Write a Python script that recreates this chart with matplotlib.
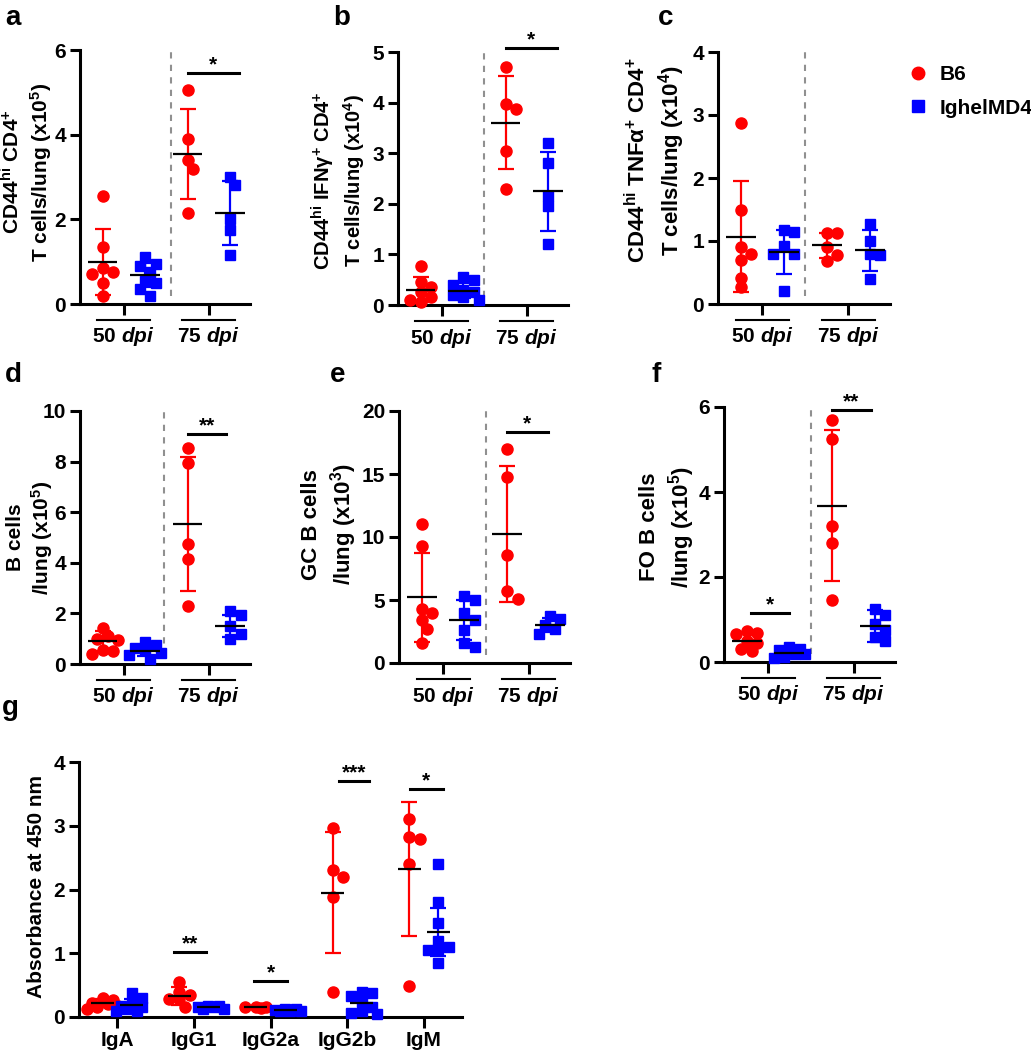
import numpy as np
import matplotlib
matplotlib.use("Agg")
import matplotlib.pyplot as plt
from matplotlib.lines import Line2D

plt.rcParams['font.family'] = ['Liberation Sans', 'DejaVu Sans']
plt.rcParams['font.weight'] = 'bold'
plt.rcParams['axes.labelweight'] = 'bold'
plt.rcParams['mathtext.fontset'] = 'custom'
plt.rcParams['mathtext.rm'] = 'Liberation Sans:bold'
plt.rcParams['mathtext.bf'] = 'Liberation Sans:bold'
plt.rcParams['mathtext.it'] = 'Liberation Sans:italic:bold'
plt.rcParams['mathtext.default'] = 'bf'

RED = '#ff0000'
BLUE = '#0000ff'
groups = ["B6", "IghelMD4"]
timepoints = ["50", "75"]

# ---- panels a-f: values per group, order B6 50, Ighel 50, B6 75, Ighel 75 ----
a_vals = [[2.55, 1.35, 0.85, 0.75, 0.7, 0.5, 0.2],
          [1.1, 0.95, 0.9, 0.75, 0.55, 0.5, 0.35, 0.2],
          [5.05, 3.9, 3.4, 3.2, 2.15],
          [3.0, 2.8, 2.0, 1.75, 1.15]]
a_mean = [1.0, 0.68, 3.55, 2.15]
a_sd = [0.78, 0.28, 1.06, 0.75]

b_vals = [[0.78, 0.45, 0.35, 0.25, 0.15, 0.1, 0.05],
          [0.55, 0.5, 0.4, 0.3, 0.25, 0.2, 0.15, 0.1],
          [4.7, 3.97, 3.87, 3.05, 2.3],
          [3.2, 2.8, 2.15, 1.95, 1.2]]
b_mean = [0.3, 0.28, 3.6, 2.25]
b_sd = [0.25, 0.15, 0.92, 0.78]

c_vals = [[2.87, 1.5, 0.9, 0.8, 0.7, 0.42, 0.27],
          [1.17, 1.15, 0.92, 0.8, 0.8, 0.2],
          [1.13, 1.12, 0.9, 0.78, 0.68],
          [1.27, 1.0, 0.8, 0.78, 0.4]]
c_mean = [1.07, 0.82, 0.93, 0.85]
c_sd = [0.88, 0.35, 0.2, 0.32]

d_vals = [[1.42, 1.1, 1.0, 0.95, 0.55, 0.5, 0.4],
          [0.85, 0.75, 0.65, 0.55, 0.45, 0.35, 0.2],
          [8.55, 7.95, 4.75, 4.15, 2.3],
          [2.1, 1.95, 1.5, 1.2, 1.0]]
d_mean = [0.92, 0.52, 5.55, 1.5]
d_sd = [0.4, 0.22, 2.65, 0.45]

e_vals = [[11.0, 9.3, 4.3, 4.0, 3.4, 2.7, 1.6],
          [5.3, 5.0, 4.0, 3.4, 2.6, 1.6, 1.3],
          [17.0, 14.8, 8.6, 5.7, 5.1],
          [3.7, 3.5, 3.0, 2.7, 2.3]]
e_mean = [5.2, 3.4, 10.25, 3.05]
e_sd = [3.55, 1.6, 5.4, 0.56]

f_vals = [[0.72, 0.68, 0.65, 0.5, 0.45, 0.3, 0.25],
          [0.35, 0.3, 0.28, 0.2, 0.18, 0.12, 0.1],
          [5.7, 5.25, 3.2, 2.8, 1.45],
          [1.25, 1.1, 0.9, 0.75, 0.6, 0.5]]
f_mean = [0.5, 0.22, 3.68, 0.85]
f_sd = [0.2, 0.09, 1.77, 0.37]

# ---- panel g ----
g_isotypes = ["IgA", "IgG1", "IgG2a", "IgG2b", "IgM"]
g_b6 = [[0.3, 0.27, 0.22, 0.2, 0.18, 0.15, 0.12],
        [0.55, 0.4, 0.35, 0.28, 0.28, 0.15],
        [0.16, 0.15, 0.15, 0.14],
        [2.97, 2.3, 2.2, 1.88, 0.39],
        [3.1, 2.82, 2.8, 2.4, 0.49]]
g_ighel = [[0.38, 0.3, 0.22, 0.18, 0.15, 0.12, 0.1, 0.1],
           [0.18, 0.17, 0.15, 0.15, 0.13, 0.12],
           [0.12, 0.12, 0.11, 0.1, 0.1, 0.09],
           [0.4, 0.38, 0.33, 0.25, 0.15, 0.1, 0.07, 0.05],
           [2.4, 1.8, 1.47, 1.2, 1.1, 1.05, 1.05, 0.85]]
g_b6_mean = [0.22, 0.33, 0.15, 1.95, 2.32]
g_b6_sd = [0.06, 0.14, 0.01, 0.95, 1.05]
g_ighel_mean = [0.19, 0.15, 0.11, 0.22, 1.33]
g_ighel_sd = [0.1, 0.02, 0.01, 0.14, 0.38]

# significance marks: (x_start, x_end, y, label)
sig_a = [(2.0, 3.2, 5.45, "*")]
sig_b = [(2.0, 3.2, 5.08, "*")]
sig_c = []
sig_d = [(2.0, 2.9, 9.08, "**")]
sig_e = [(2.0, 2.95, 18.3, "*")]
sig_f = [(0.1, 1.0, 1.15, "*"), (2.0, 2.9, 5.93, "**")]
sig_g = [(0.74, 1.16, 1.02, "**"), (1.79, 2.21, 0.56, "*"),
         (2.89, 3.29, 3.7, "***"), (3.82, 4.25, 3.58, "*")]

W, H = 1031, 1050
fig = plt.figure(figsize=(W / 100, H / 100), dpi=100)


def add_axes_px(left, top, right, bottom):
    return fig.add_axes([left / W, 1 - bottom / H, (right - left) / W, (bottom - top) / H])


def swarm(vals, ax, xc, diam=10.5, max_steps=3):
    # spread overlapping points sideways (pixel space), like a dot plot
    x0 = ax.transData.transform((xc, 0))[0]
    placed = []
    xs = np.zeros(len(vals))
    order = np.argsort(vals)[::-1]
    cands = sorted(np.arange(-max_steps, max_steps + 1) * diam * 0.5, key=lambda c: (abs(c), -c))
    for i in order:
        y = ax.transData.transform((xc, vals[i]))[1]
        best, best_d = 0.0, -1
        for c in cands:
            dmin = min([np.hypot(c - px, y - py) for px, py in placed] + [1e9])
            if dmin >= diam * 0.9:
                best = c
                break
            if dmin > best_d:
                best, best_d = c, dmin
        placed.append((best, y))
        xs[i] = ax.transData.inverted().transform((x0 + best, y))[0]
    return xs


def style_axes(ax):
    for s in ['top', 'right']:
        ax.spines[s].set_visible(False)
    for s in ['left', 'bottom']:
        ax.spines[s].set_linewidth(2.2)
    ax.tick_params(axis='both', width=2.2, labelsize=15)
    ax.tick_params(axis='y', length=7, pad=3)
    ax.tick_params(axis='x', length=8, pad=2)
    for lab in ax.get_yticklabels() + ax.get_xticklabels():
        lab.set_fontweight('bold')


def draw_group(ax, xc, vals, mean, sd, color, marker, hw):
    xs = swarm(vals, ax, xc)
    ax.plot(xs, vals, linestyle='none', marker=marker, color=color,
            markersize=8 if marker == 'o' else 7.3, zorder=3, clip_on=False)
    ax.errorbar(xc, mean, yerr=sd, fmt='none', ecolor=color, elinewidth=1.6,
                capsize=5.5, capthick=1.6, zorder=4)
    ax.hlines(mean, xc - hw, xc + hw, color='black', lw=1.6, zorder=5)


def draw_sig(ax, sigs):
    for x0, x1, y, lab in sigs:
        ax.plot([x0, x1], [y, y], color='black', lw=2.2, clip_on=False)
        ax.annotate(lab, ((x0 + x1) / 2, y), xytext=(0, -1), textcoords='offset points',
                    ha='center', va='bottom', fontsize=15, fontweight='bold',
                    annotation_clip=False)


panels = [
    ("a", (80, 50, 250, 304), a_vals, a_mean, a_sd, 6, [0, 2, 4, 6], 1.62, sig_a,
     "CD44$^{hi}$ CD4$^{+}$\nT cells/lung (x10$^{5}$)", (-0.15, 0.52), 15, 1.25),
    ("b", (398, 52, 568, 305), b_vals, b_mean, b_sd, 5, [0, 1, 2, 3, 4, 5], 1.5, sig_b,
     "CD44$^{hi}$ IFNγ$^{+}$ CD4$^{+}$\nT cells/lung (x10$^{4}$)", (-0.18, 0.49), 14.5, 1.25),
    ("c", (718, 52, 890, 304), c_vals, c_mean, c_sd, 4, [0, 1, 2, 3, 4], 1.5, sig_c,
     "CD44$^{hi}$ TNFα$^{+}$ CD4$^{+}$\nT cells/lung (x10$^{4}$)", (-0.18, 0.57), 16, 1.25),
    ("d", (80, 411, 250, 664), d_vals, d_mean, d_sd, 10, [0, 2, 4, 6, 8, 10], 1.45, sig_d,
     "B cells\n/lung (x10$^{5}$)", (-0.147, 0.5), 15, 1.2),
    ("e", (399, 411, 570, 663), e_vals, e_mean, e_sd, 20, [0, 5, 10, 15, 20], 1.5, sig_e,
     "GC B cells\n/lung (x10$^{3}$)", (-0.235, 0.55), 16, 1.25),
    ("f", (724, 407, 895, 662), f_vals, f_mean, f_sd, 6, [0, 2, 4, 6], 1.5, sig_f,
     "FO B cells\n/lung (x10$^{5}$)", (-0.16, 0.53), 16, 1.25),
]
letter_pos = {"a": (5, 5), "b": (333, 5), "c": (658, 5),
              "d": (5, 362), "e": (330, 362), "f": (652, 362), "g": (2, 695)}

for (letter, rect, vals, mean, sd, ymax, yticks, dash_x, sigs,
     ylabel, lab_xy, lab_fs, lab_ls) in panels:
    ax = add_axes_px(*rect)
    ax.set_xlim(-0.53, 3.47)
    ax.set_ylim(0, ymax)
    ax.set_yticks(yticks)
    ax.set_xticks([0.5, 2.5])
    ax.set_xticklabels([])
    style_axes(ax)
    for k in range(4):
        color = RED if k % 2 == 0 else BLUE
        marker = 'o' if k % 2 == 0 else 's'
        draw_group(ax, k, vals[k], mean[k], sd[k], color, marker, 0.35)
    ax.axvline(dash_x, ymin=0.03, ymax=1.0, color='#909090', lw=1.5, ls=(0, (3, 3)))
    draw_sig(ax, sigs)
    h_px = rect[3] - rect[1]
    trans = ax.get_xaxis_transform()
    for j, tp in enumerate(timepoints):
        xc = 0.5 + 2 * j
        ax.plot([xc - 0.62, xc + 0.62], [-16 / h_px] * 2, color='black', lw=1.5,
                transform=trans, clip_on=False)
        ax.text(xc, -33 / h_px, tp + r" $\mathit{dpi}$", transform=trans, ha='center',
                va='center', fontsize=15, fontweight='bold')
    ax.set_ylabel(ylabel, fontsize=lab_fs, linespacing=lab_ls)
    ax.yaxis.set_label_coords(*lab_xy)

# panel g
axg = add_axes_px(79, 762, 462, 1017)
axg.set_xlim(-0.5, 4.5)
axg.set_ylim(0, 4)
axg.set_yticks([0, 1, 2, 3, 4])
axg.set_xticks(range(len(g_isotypes)))
axg.set_xticklabels(g_isotypes)
style_axes(axg)
for i in range(len(g_isotypes)):
    draw_group(axg, i - 0.19, g_b6[i], g_b6_mean[i], g_b6_sd[i], RED, 'o', 0.15)
    draw_group(axg, i + 0.19, g_ighel[i], g_ighel_mean[i], g_ighel_sd[i], BLUE, 's', 0.15)
draw_sig(axg, sig_g)
axg.set_ylabel("Absorbance at 450 nm", fontsize=15)
axg.yaxis.set_label_coords(-0.086, 0.51)

for letter, (x, y) in letter_pos.items():
    fig.text(x / W, 1 - y / H, letter, fontsize=20, fontweight='bold', va='top', ha='left')

handles = [Line2D([], [], linestyle='none', marker='o', color=RED, markersize=9),
           Line2D([], [], linestyle='none', marker='s', color=BLUE, markersize=8)]
fig.legend(handles, groups, loc='upper left', bbox_to_anchor=(0.88, 0.938),
           frameon=False, fontsize=15, handlelength=1.0, handletextpad=0.55,
           labelspacing=0.7, borderpad=0, borderaxespad=0)

fig.savefig("out.png", dpi=100)
